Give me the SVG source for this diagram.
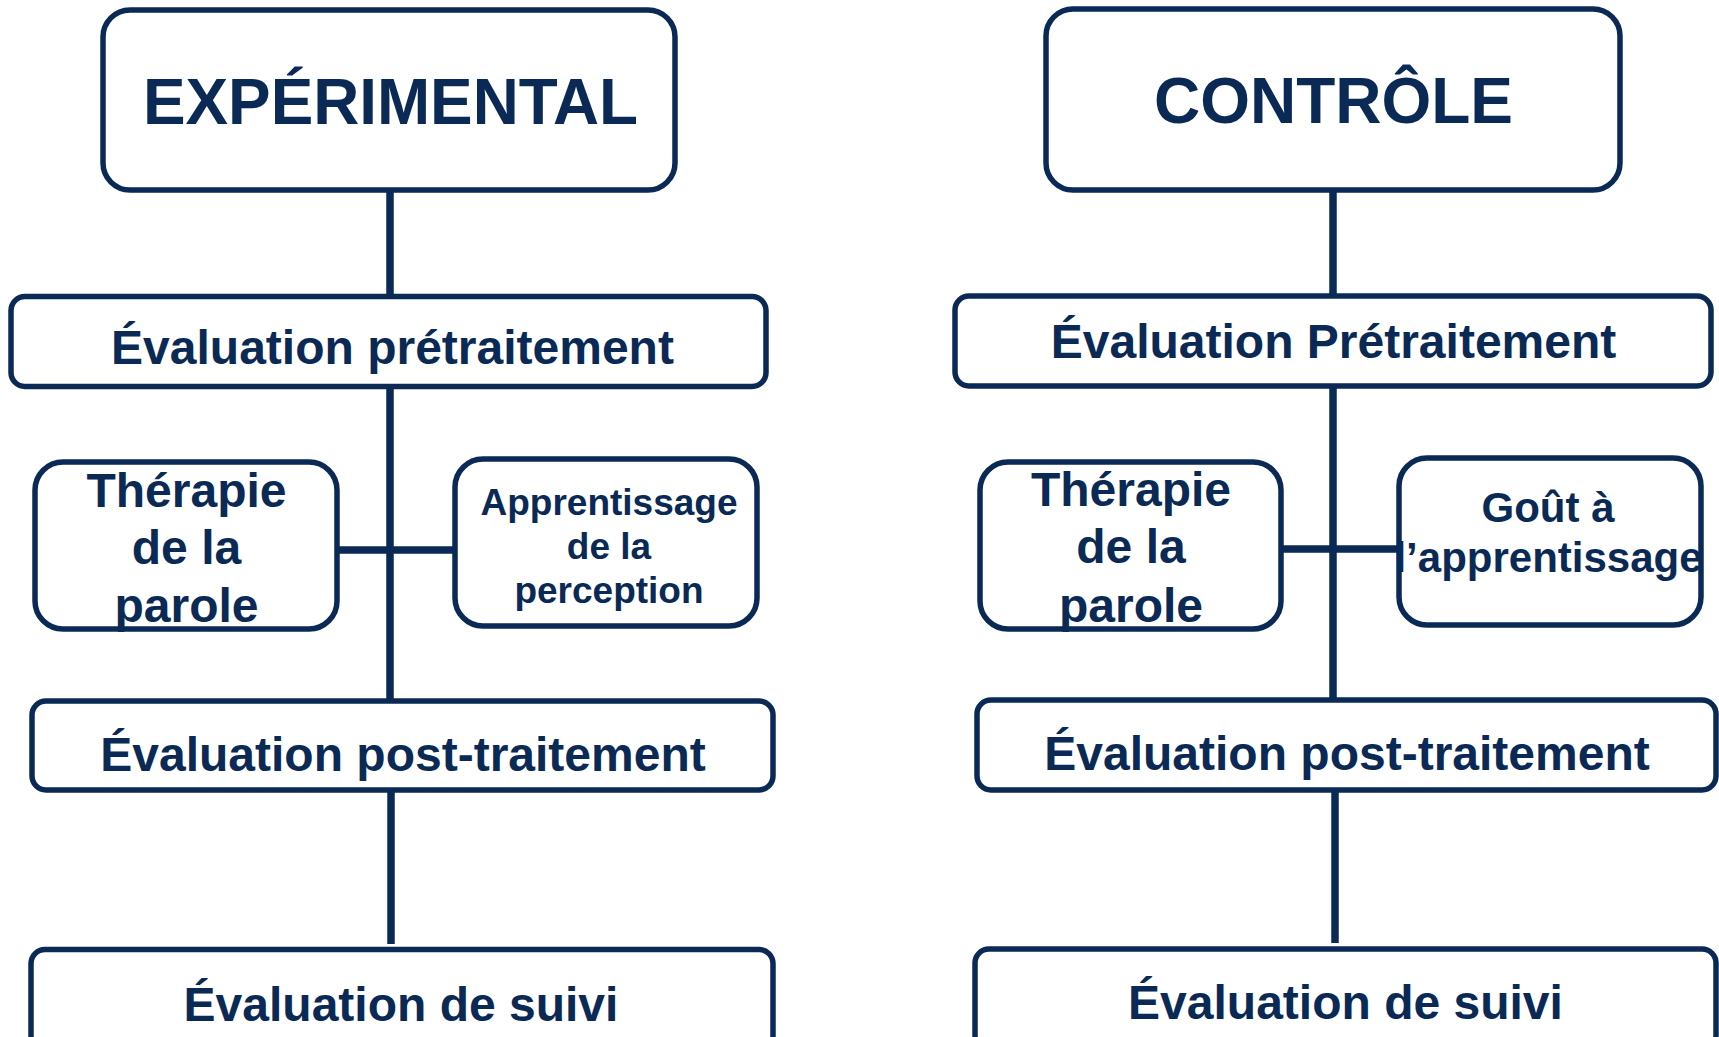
<svg xmlns="http://www.w3.org/2000/svg" width="1719" height="1037" viewBox="0 0 1719 1037">
<style>
.box{fill:#ffffff;stroke:#0a2a55;stroke-width:5.5}
.ln{stroke:#0a2a55;stroke-width:7.5;fill:none}
.t{font-family:"Liberation Sans",Arial,sans-serif;font-weight:bold;fill:#0a2a55;text-anchor:middle}
.big{font-size:64px}
.md{font-size:48px}
</style>
<rect width="1719" height="1037" fill="#ffffff"/>
<g id="connectors">
<line class="ln" x1="390" y1="190" x2="390" y2="297"/>
<line class="ln" x1="390" y1="386" x2="390" y2="701"/>
<line class="ln" x1="391" y1="790" x2="391" y2="944"/>
<line class="ln" x1="337" y1="550" x2="455" y2="550"/>
<line class="ln" x1="1333" y1="190" x2="1333" y2="296"/>
<line class="ln" x1="1333" y1="386" x2="1333" y2="700"/>
<line class="ln" x1="1335" y1="790" x2="1335" y2="943"/>
<line class="ln" x1="1281" y1="549" x2="1399" y2="549"/>
</g>
<g id="exp-title">
<rect class="box" x="103" y="10" width="572" height="180" rx="27"/>
<text class="t big" x="390.5" y="124" textLength="495" lengthAdjust="spacingAndGlyphs">EXPÉRIMENTAL</text>
</g>
<g id="exp-pre">
<rect class="box" x="11" y="296.5" width="755" height="90" rx="14"/>
<text class="t md" x="392.5" y="364">Évaluation prétraitement</text>
</g>
<g id="exp-therapie">
<rect class="box" x="35" y="462" width="302" height="167" rx="28"/>
<text class="t md" x="186.5" y="507">Thérapie</text>
<text class="t md" x="186.5" y="564">de la</text>
<text class="t md" x="186.5" y="621.5">parole</text>
</g>
<g id="exp-apprentissage">
<rect class="box" x="455" y="459" width="302" height="167" rx="28"/>
<text class="t" style="font-size:37px" x="609" y="515">Apprentissage</text>
<text class="t" style="font-size:37px" x="609" y="559">de la</text>
<text class="t" style="font-size:37px" x="609" y="603">perception</text>
</g>
<g id="exp-post">
<rect class="box" x="32" y="701" width="741" height="89" rx="14"/>
<text class="t md" x="403" y="771">Évaluation post-traitement</text>
</g>
<g id="exp-suivi">
<rect class="box" x="31" y="949.5" width="742" height="100" rx="14"/>
<text class="t md" x="401" y="1021">Évaluation de suivi</text>
</g>
<g id="ctl-title">
<rect class="box" x="1046" y="9" width="574" height="181" rx="27"/>
<text class="t big" x="1333.5" y="123">CONTRÔLE</text>
</g>
<g id="ctl-pre">
<rect class="box" x="955" y="296" width="756" height="90" rx="14"/>
<text class="t md" x="1333.5" y="358">Évaluation Prétraitement</text>
</g>
<g id="ctl-therapie">
<rect class="box" x="980" y="462" width="301" height="167" rx="28"/>
<text class="t md" x="1131" y="506">Thérapie</text>
<text class="t md" x="1131" y="563">de la</text>
<text class="t md" x="1131" y="621.5">parole</text>
</g>
<g id="ctl-gout">
<rect class="box" x="1399" y="458" width="302" height="167" rx="28"/>
<text class="t" style="font-size:42px" x="1548" y="521.5">Goût à</text>
<text class="t" style="font-size:42px" x="1548.5" y="571.5">l’apprentissage</text>
</g>
<g id="ctl-post">
<rect class="box" x="977" y="700" width="739" height="90" rx="14"/>
<text class="t md" x="1347" y="770">Évaluation post-traitement</text>
</g>
<g id="ctl-suivi">
<rect class="box" x="975" y="949" width="741" height="100" rx="14"/>
<text class="t md" x="1345.5" y="1019">Évaluation de suivi</text>
</g>
</svg>
